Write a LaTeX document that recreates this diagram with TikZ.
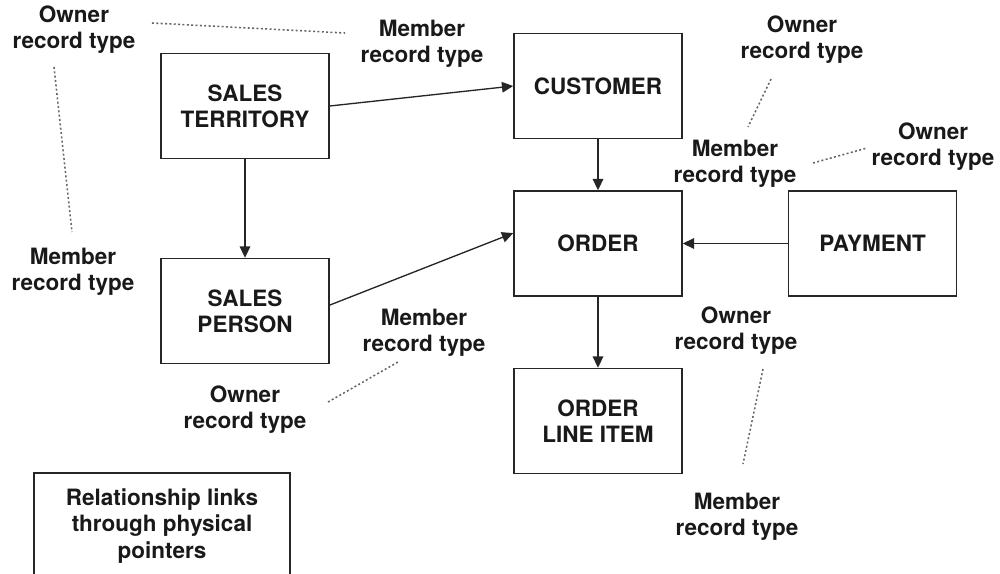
\documentclass[tikz,border=0pt]{standalone}
\usepackage{fontspec}
\setmainfont{TeX Gyre Heros}
\usetikzlibrary{arrows.meta}

\begin{document}
\begin{tikzpicture}[x=0.025cm, y=-0.025cm,
        every node/.style={font=\fontsize{16}{18.6}\selectfont\bfseries, text=black!90},
        record/.style={draw=black!85, line width=1.1pt, minimum width=4.2cm, minimum height=2.625cm, align=center, inner sep=0pt},
        rtype/.style={align=center, inner sep=0pt},
        link/.style={-{Triangle[length=8pt,width=7.5pt]}, line width=0.95pt, draw=black!85},
        pair/.style={black!60, line width=1.1pt, dash pattern=on 1.4pt off 1.7pt}]
        \useasboundingbox (0,0) rectangle (1000,573);
        % record types
        \node [record] (terr) at (245,106) {SALES\\TERRITORY};
        \node [record] (cust) at (598,86) {CUSTOMER};
        \node [record] (sp) at (245,311) {SALES\\PERSON};
        \node [record] (order) at (598,243.5) {ORDER};
        \node [record] (pay) at (872.5,243.5) {PAYMENT};
        \node [record] (item) at (598,421) {ORDER\\LINE ITEM};
        % pointers
        \draw [link] (terr.east) -- (cust.west);
        \draw [link] (terr) -- (sp);
        \draw [link] (cust) -- (order);
        \draw [link] (sp.4) -- (order.173);
        \draw [link] (pay) -- (order);
        \draw [link] (order) -- (item);
        % owner and member labels
        \node [rtype] (own1) at (74,29.5) {Owner\\record type};
        \node [rtype] (mem1) at (422,44) {Member\\record type};
        \node [rtype] (mem2) at (73,272) {Member\\record type};
        \node [rtype] (own2) at (802,40) {Owner\\record type};
        \node [rtype] (mem3) at (735,164) {Member\\record type};
        \node [rtype] (own3) at (933,147) {Owner\\record type};
        \node [rtype] (mem4) at (424,333) {Member\\record type};
        \node [rtype] (own4) at (245,410) {Owner\\record type};
        \node [rtype] (own5) at (736,331) {Owner\\record type};
        \node [rtype] (mem5) at (737,517) {Member\\record type};
        % dotted pairs
        \coordinate (p1a) at (152,23); \coordinate (p1b) at (345,33);
        \coordinate (p2a) at (54,67); \coordinate (p2b) at (72,232);
        \coordinate (p3a) at (771,79); \coordinate (p3b) at (748,127);
        \coordinate (p4a) at (813,163); \coordinate (p4b) at (867,148);
        \coordinate (p5a) at (328,402); \coordinate (p5b) at (398,362);
        \coordinate (p6a) at (763,369); \coordinate (p6b) at (743,464);
        \draw [pair] (p1a) -- (p1b);
        \draw [pair] (p2a) -- (p2b);
        \draw [pair] (p3a) -- (p3b);
        \draw [pair] (p4a) -- (p4b);
        \draw [pair] (p5a) -- (p5b);
        \draw [pair] (p6a) -- (p6b);
        % legend
        \node [record, minimum width=6.4cm, minimum height=2.65cm] (legend) at (162,526) {Relationship links\\through physical\\pointers};
    \end{tikzpicture}
\end{document}
